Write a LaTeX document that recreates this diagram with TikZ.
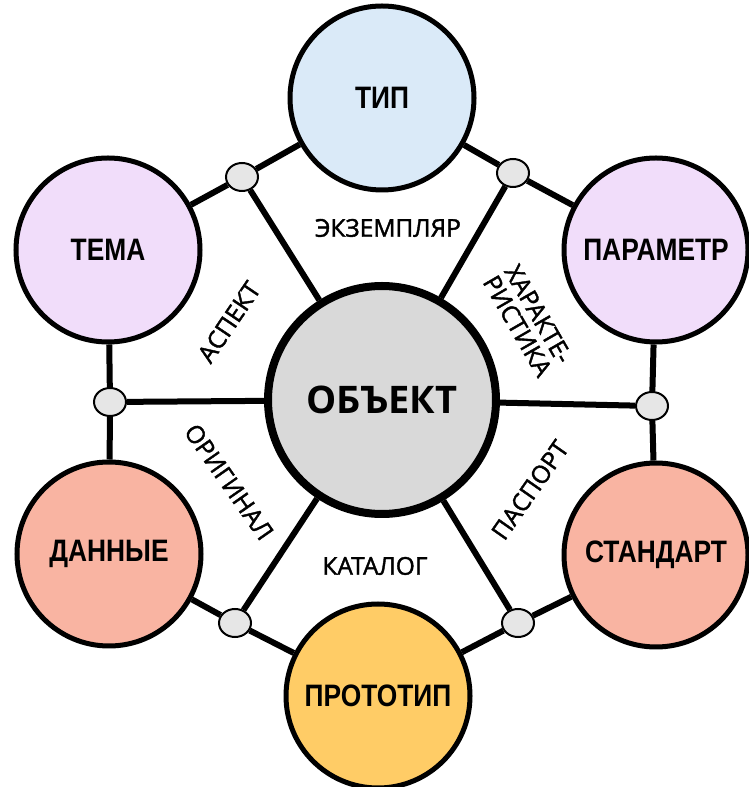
\documentclass[tikz,border=0pt]{standalone}
\usepackage{fontspec}
\newfontfamily\circfont[FakeStretch=0.85]{Liberation Sans}
\newfontfamily\objfont{Open Sans}
\newfontfamily\relfont[FakeBold=1.6]{Open Sans}
\usetikzlibrary{shapes.geometric}

\definecolor{tipblue}{HTML}{DAEAF8}
\definecolor{lavender}{HTML}{F1DDFA}
\definecolor{salmon}{HTML}{F9B4A2}
\definecolor{protoyellow}{HTML}{FFCC66}
\definecolor{objgray}{HTML}{D9D9D9}
\definecolor{dotgray}{HTML}{E6E6E6}

\begin{document}
\begin{tikzpicture}
    [
        x=1pt, y=1pt,
        outer/.style={circle, draw, line width=5pt, fill=#1,
                      minimum size=184pt, inner sep=0pt,
                      font=\circfont\bfseries\fontsize{31}{31}\selectfont},
        centre/.style={circle, draw, line width=8pt, fill=objgray,
                       minimum size=228pt, inner sep=0pt,
                       font=\objfont\bfseries\fontsize{38}{38}\selectfont},
        joint/.style={ellipse, draw, line width=2pt, fill=dotgray,
                      minimum width=32pt, minimum height=28pt, inner sep=0pt},
        link/.style={line width=6pt},
        relation/.style={font=\relfont\fontsize{24.5}{24}\selectfont, inner sep=0pt}
    ]
    \useasboundingbox (0,0) rectangle (748,787);

    % circles
    \node (obj) [centre] at (382,387) {ОБЪЕКТ};
    \node (tip) [outer=tipblue] at (382,689) {ТИП};
    \node (tema) [outer=lavender] at (108,537) {ТЕМА};
    \node (param) [outer=lavender] at (656,537) {ПАРАМЕТР};
    \node (dann) [outer=salmon] at (109,233) {ДАННЫЕ};
    \node (stand) [outer=salmon] at (656,232) {СТАНДАРТ};
    \node (proto) [outer=protoyellow] at (378,91) {ПРОТОТИП};

    % joints
    \node (jtl) [joint] at (242,610) {};
    \node (jtr) [joint] at (513,614) {};
    \node (jl) [joint] at (110,385) {};
    \node (jr) [joint] at (652,381) {};
    \node (jbl) [joint] at (235,164) {};
    \node (jbr) [joint] at (518,164) {};

    % ring
    \draw [link] (tip) -- (jtl) -- (tema);
    \draw [link] (tip) -- (jtr) -- (param);
    \draw [link] (tema) -- (jl) -- (dann);
    \draw [link] (param) -- (jr) -- (stand);
    \draw [link] (dann) -- (jbl) -- (proto);
    \draw [link] (stand) -- (jbr) -- (proto);

    % spokes
    \foreach \j in {jtl, jtr, jl, jr, jbl, jbr}
        \draw [link] (obj) -- (\j);

    % relations
    \node (ekz) [relation] at (388,559) {ЭКЗЕМПЛЯР};
    \node (kat) [relation] at (375,221) {КАТАЛОГ};
    \node (asp) [relation, rotate=56] at (229,465) {АСПЕКТ};
    \node (har) [relation, rotate=-60, align=center] at (528,467) {ХАРАКТЕ-\\РИСТИКА};
    \node (orig) [relation, rotate=-55] at (229,305) {ОРИГИНАЛ};
    \node (pasp) [relation, rotate=55] at (530,297) {ПАСПОРТ};
\end{tikzpicture}
\end{document}
